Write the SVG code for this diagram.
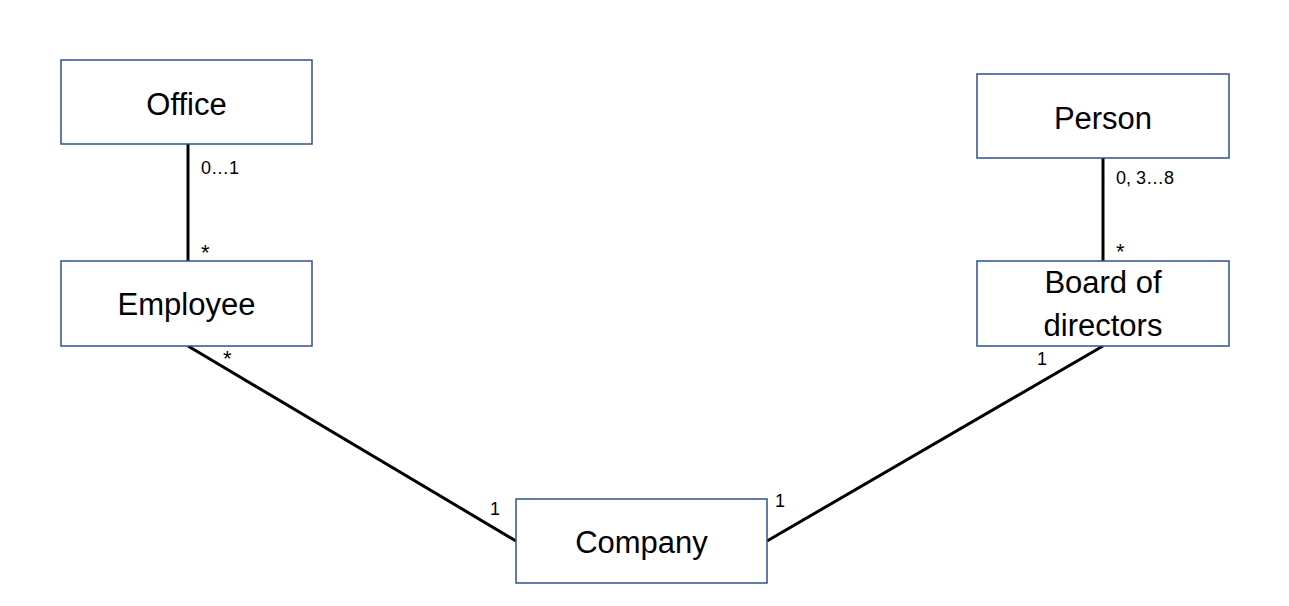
<svg xmlns="http://www.w3.org/2000/svg" width="1289" height="606" viewBox="0 0 1289 606">
  <style>
    .box { fill: #ffffff; stroke: #2f528f; stroke-width: 1.5; }
    .name { font-family: "Liberation Sans", Arial, sans-serif; font-size: 31px; fill: #000000; text-anchor: middle; }
    .mult { font-family: "Liberation Sans", Arial, sans-serif; font-size: 18px; fill: #000000; }
    .star { font-family: "Liberation Sans", Arial, sans-serif; font-size: 22px; fill: #000000; }
    .link { stroke: #000000; stroke-width: 3; fill: none; }
  </style>
  <rect width="1289" height="606" fill="#ffffff"/>

  <!-- associations -->
  <g id="connectors">
    <line class="link" x1="188" y1="144" x2="188" y2="261"/>
    <line class="link" x1="1103" y1="158" x2="1103" y2="261"/>
    <line class="link" x1="188" y1="346" x2="516" y2="541"/>
    <line class="link" x1="1103" y1="346" x2="767" y2="541"/>
    <text class="mult" x="201" y="174">0…1</text>
    <text class="star" x="201" y="260">*</text>
    <text class="mult" x="1116" y="184">0, 3…8</text>
    <text class="star" x="1116" y="259">*</text>
    <text class="star" x="223" y="366">*</text>
    <text class="mult" x="1037" y="365">1</text>
    <text class="mult" x="490" y="515">1</text>
    <text class="mult" x="775" y="507">1</text>
  </g>

  <g id="office">
    <rect class="box" x="61" y="60" width="251" height="84"/>
    <text class="name" x="186.5" y="115">Office</text>
  </g>
  <g id="employee">
    <rect class="box" x="61" y="261" width="251" height="85"/>
    <text class="name" x="186.5" y="315">Employee</text>
  </g>
  <g id="person">
    <rect class="box" x="977" y="74" width="252" height="84"/>
    <text class="name" x="1103" y="129">Person</text>
  </g>
  <g id="board">
    <rect class="box" x="977" y="261" width="252" height="85"/>
    <text class="name" x="1103" y="293">Board of</text>
    <text class="name" x="1103" y="336">directors</text>
  </g>
  <g id="company">
    <rect class="box" x="516" y="499" width="251" height="84"/>
    <text class="name" x="641.5" y="553">Company</text>
  </g>
</svg>
